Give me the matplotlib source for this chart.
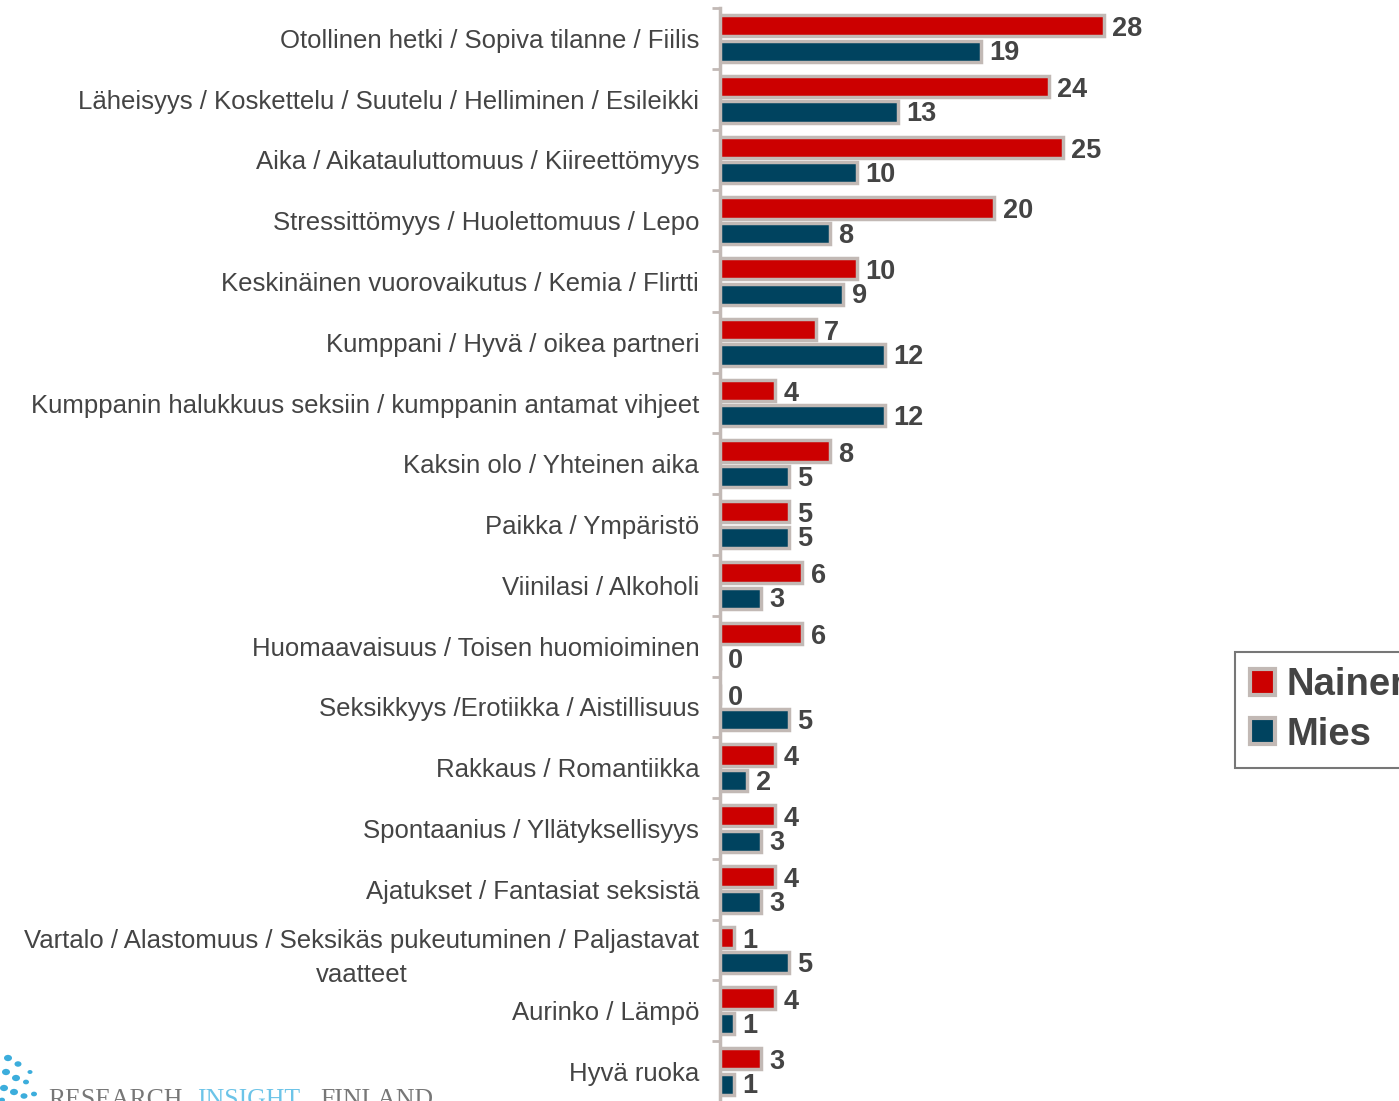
import matplotlib
matplotlib.use("Agg")
import matplotlib.pyplot as plt
from matplotlib.patches import Patch, Circle
import numpy as np

categories = [
    "Otollinen hetki / Sopiva tilanne / Fiilis",
    "Läheisyys / Koskettelu / Suutelu / Helliminen / Esileikki",
    "Aika / Aikatauluttomuus / Kiireettömyys",
    "Stressittömyys / Huolettomuus / Lepo",
    "Keskinäinen vuorovaikutus / Kemia / Flirtti",
    "Kumppani / Hyvä / oikea partneri",
    "Kumppanin halukkuus seksiin / kumppanin antamat vihjeet",
    "Kaksin olo / Yhteinen aika",
    "Paikka / Ympäristö",
    "Viinilasi / Alkoholi",
    "Huomaavaisuus / Toisen huomioiminen",
    "Seksikkyys /Erotiikka / Aistillisuus",
    "Rakkaus / Romantiikka",
    "Spontaanius / Yllätyksellisyys",
    "Ajatukset / Fantasiat seksistä",
    "Vartalo / Alastomuus / Seksikäs pukeutuminen / Paljastavat\nvaatteet",
    "Aurinko / Lämpö",
    "Hyvä ruoka",
]
nainen = [28, 24, 25, 20, 10, 7, 4, 8, 5, 6, 6, 0, 4, 4, 4, 1, 4, 3]
mies = [19, 13, 10, 8, 9, 12, 12, 5, 5, 3, 0, 5, 2, 3, 3, 5, 1, 1]
series_names = ["Nainen", "Mies"]

RED = "#cc0000"
BLUE = "#00435f"
EDGE = "#c2b9b5"
TXT = "#444444"
FAM = ["Liberation Sans", "DejaVu Sans"]

W, H = 1399, 1101
fig = plt.figure(figsize=(W / 100, H / 100), dpi=100)
ax = fig.add_axes([720 / W, (H - 1102) / H, 480 / W, 1094 / H])

y = np.arange(len(categories))
off = 0.21
bh = 0.35
ax.barh(y - off, nainen, height=bh, color=RED, edgecolor=EDGE, linewidth=2.5, label=series_names[0], zorder=3)
ax.barh(y + off, mies, height=bh, color=BLUE, edgecolor=EDGE, linewidth=2.5, label=series_names[1], zorder=3)

for yi, v in zip(y - off, nainen):
    ax.annotate(str(v), (v, yi), xytext=(6, -2.5), textcoords="offset points", va="center", ha="left",
                fontsize=19.5, fontweight="bold", color=TXT, family=FAM)
for yi, v in zip(y + off, mies):
    ax.annotate(str(v), (v, yi), xytext=(6, -1.5), textcoords="offset points", va="center", ha="left",
                fontsize=19.5, fontweight="bold", color=TXT, family=FAM)

ax.set_xlim(0, 35)
ax.set_ylim(len(categories) - 0.5, -0.5)
ax.set_yticks(y)
ax.set_yticklabels(categories, fontsize=18.5, color=TXT, family=FAM, multialignment="center")
for t in ax.get_yticklabels():
    if "\n" in t.get_text():
        t.set_linespacing(1.55)
ax.set_yticks(np.arange(len(categories) + 1) - 0.5, minor=True)
ax.tick_params(axis="y", which="major", length=0, pad=15)
ax.tick_params(axis="y", which="minor", length=6, width=2, color=EDGE, direction="out")
ax.set_xticks([])
for s in ["top", "right", "bottom"]:
    ax.spines[s].set_visible(False)
ax.spines["left"].set_color(EDGE)
ax.spines["left"].set_linewidth(2.5)
ax.set_facecolor("none")

handles = [Patch(facecolor=RED, edgecolor=EDGE, linewidth=3),
           Patch(facecolor=BLUE, edgecolor=EDGE, linewidth=3)]
leg = fig.legend(handles, series_names, loc="upper left", bbox_to_anchor=(1235 / W, (H - 652) / H),
                 frameon=True, fancybox=False, edgecolor="#555555", handlelength=0.65, handleheight=0.65,
                 handletextpad=0.3, labelspacing=0.35, borderpad=0.4, borderaxespad=0,
                 prop={"family": FAM, "weight": "bold", "size": 27.5})
for t in leg.get_texts():
    t.set_color(TXT)
leg.get_frame().set_linewidth(1.5)

# logo (decoration)
fx = lambda px: px / W
fy = lambda py: (H - py) / H
dots = [(8, 1058, 4), (18, 1064, 3.5), (6, 1072, 4), (16, 1078, 4), (26, 1082, 3), (4, 1088, 4),
        (14, 1092, 4), (24, 1096, 3.5), (34, 1094, 3), (2, 1100, 3), (30, 1072, 2.5)]
for (px, py, r) in dots:
    fig.patches.append(Circle((fx(px), fy(py)), r / W, transform=fig.transFigure,
                              facecolor="#1a9fd6", edgecolor="none", alpha=0.85))
fig.text(fx(48), fy(1106), "RESEARCH", fontsize=18.5, color="#777777", family="Liberation Serif", va="baseline")
fig.text(fx(197), fy(1106), "INSIGHT", fontsize=18.5, color="#6cc4e8", family="Liberation Serif", va="baseline")
fig.text(fx(320), fy(1106), "FINLAND", fontsize=18.5, color="#777777", family="Liberation Serif", va="baseline")

fig.savefig("out.png", dpi=100, facecolor="white")
